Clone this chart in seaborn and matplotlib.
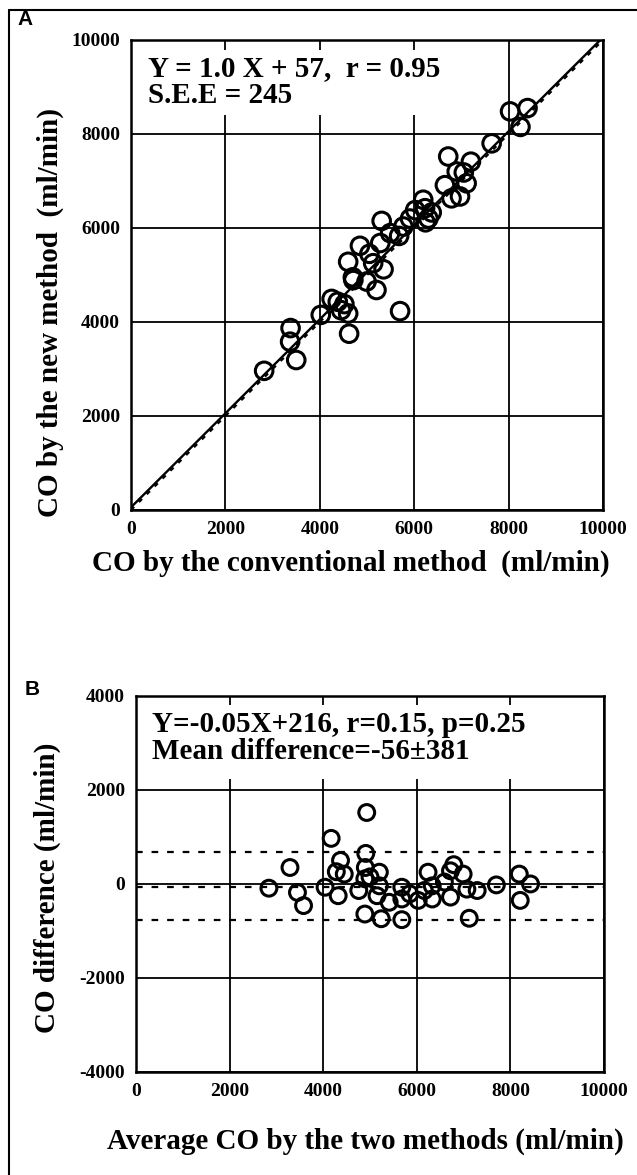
import numpy as np
import pandas as pd
import seaborn as sns
import matplotlib.pyplot as plt
from matplotlib.lines import Line2D
from matplotlib.patches import Rectangle

# Panel A: conventional vs new method (ml/min)
conv_co = [2820, 3380, 3370, 3500, 4020, 4250, 4380, 4520, 4450, 4600,
           4620, 5700, 4600, 4710, 4850, 4990, 5200, 5350, 5130, 5280,
           5490, 5310, 5770, 5680, 5910, 6020, 6190, 6230, 6300, 6370,
           6240, 6650, 6720, 6900, 6970, 6790, 7110, 7050, 7200, 7640,
           8030, 8400, 8250, 5050, 4700]
new_co = [2960, 3870, 3580, 3190, 4150, 4490, 4430, 4380, 4250, 4180,
          3750, 4230, 5280, 4890, 5620, 4860, 4680, 5120, 5250, 5680,
          5890, 6150, 6030, 5830, 6200, 6380, 6600, 6420, 6200, 6330,
          6120, 6910, 7520, 7200, 6670, 6630, 6950, 7180, 7410, 7800,
          8480, 8550, 8150, 5450, 4950]

# Panel B: Bland-Altman (average vs difference)
avg_co = [2840, 3290, 3450, 3580, 4040, 4170, 4280, 4320, 4370, 4450,
          4760, 4890, 4890, 4910, 4930, 4900, 5200, 5200, 5150, 5240,
          5410, 5680, 5680, 5680, 5850, 6030, 6240, 6330, 6330, 6160,
          6590, 6720, 6720, 6990, 7070, 7120, 7290, 7700, 8190, 8210,
          8430, 6790, 5000]
diff_co = [-90, 350, -180, -460, -70, 970, 260, -250, 500, 210,
           -140, 110, -640, 650, 1520, 350, 250, -40, -250, -740,
           -390, -70, -320, -760, -210, -350, 250, -40, -320, -140,
           40, 280, -280, 210, -110, -730, -140, -20, 210, -350,
           0, 410, 150]

fit_slope, fit_icpt = 1.0, 57
mean_diff = -56
upper_lim, lower_lim = 690, -760

df_a = pd.DataFrame({"conv": conv_co, "new": new_co})
df_b = pd.DataFrame({"avg": avg_co, "diff": diff_co})

sns.set_theme(style="white")
plt.rcParams["font.family"] = ["Liberation Serif", "DejaVu Serif"]
plt.rcParams["font.weight"] = "bold"
plt.rcParams["axes.linewidth"] = 1.6
plt.rcParams["axes.unicode_minus"] = False
for key in ("text.color", "axes.labelcolor", "xtick.color", "ytick.color"):
    plt.rcParams[key] = "black"

fig = plt.figure(figsize=(6.37, 11.75), dpi=100)
ax1 = fig.add_axes([0.2057, 0.566, 0.741, 0.400])
ax2 = fig.add_axes([0.2135, 0.0877, 0.7347, 0.320])

tick_kw = dict(direction="out", length=6, width=1.6, color="black",
               labelcolor="black", labelsize=14, pad=2)

# --- Panel A ---
xs = np.array([0, 10000])
ax1.plot(xs, xs, color="black", lw=1.6, ls=(0, (2, 3)), zorder=2)
ax1.plot(xs, fit_slope * xs + fit_icpt, color="black", lw=1.7, zorder=2)
sns.scatterplot(data=df_a, x="conv", y="new", ax=ax1, s=160,
                facecolors="none", edgecolor="black", linewidth=2.2,
                zorder=4, legend=False)
ax1.set_xlim(0, 10000)
ax1.set_ylim(0, 10000)
ax1.set_xticks(range(0, 10001, 2000))
ax1.set_yticks(range(0, 10001, 2000))
ax1.grid(True, color="black", lw=1.3)
ax1.tick_params(**tick_kw)
ax1.add_patch(Rectangle((0.02, 0.84), 0.73, 0.138, transform=ax1.transAxes,
                        facecolor="white", edgecolor="none", zorder=1))
ax1.text(0.035, 0.968, "Y = 1.0 X + 57,  r = 0.95\nS.E.E = 245",
         transform=ax1.transAxes, ha="left", va="top", fontsize=21,
         fontweight="bold", linespacing=1.0, zorder=3)
ax1.set_xlabel("CO by the conventional method  (ml/min)", fontsize=21,
               fontweight="bold")
ax1.set_ylabel("CO by the new method  (ml/min)", fontsize=21,
               fontweight="bold")
ax1.xaxis.set_label_coords(0.465, -0.085)
ax1.yaxis.set_label_coords(-0.142, 0.42)

# --- Panel B ---
ax2.axhline(mean_diff, color="black", lw=1.6, ls=(0, (3, 4)), zorder=2)
ax2.axhline(upper_lim, color="black", lw=1.6, ls=(0, (3, 4)), zorder=2)
ax2.axhline(lower_lim, color="black", lw=1.6, ls=(0, (3, 4)), zorder=2)
sns.scatterplot(data=df_b, x="avg", y="diff", ax=ax2, s=130,
                facecolors="none", edgecolor="black", linewidth=2.2,
                zorder=4, legend=False)
ax2.set_xlim(0, 10000)
ax2.set_ylim(-4000, 4000)
ax2.set_xticks(range(0, 10001, 2000))
ax2.set_yticks(range(-4000, 4001, 2000))
ax2.grid(True, color="black", lw=1.3)
ax2.tick_params(**tick_kw)
ax2.add_patch(Rectangle((0.02, 0.78), 0.92, 0.195, transform=ax2.transAxes,
                        facecolor="white", edgecolor="none", zorder=1))
ax2.text(0.035, 0.96, "Y=-0.05X+216, r=0.15, p=0.25\nMean difference=-56\u00b1381",
         transform=ax2.transAxes, ha="left", va="top", fontsize=21,
         fontweight="bold", linespacing=1.0, zorder=3)
ax2.set_xlabel("Average CO by the two methods (ml/min)", fontsize=21,
               fontweight="bold")
ax2.set_ylabel("CO difference (ml/min)", fontsize=21, fontweight="bold")
ax2.xaxis.set_label_coords(0.49, -0.148)
ax2.yaxis.set_label_coords(-0.16, 0.49)

for ax in (ax1, ax2):
    for sp in ax.spines.values():
        sp.set_color("black")
        sp.set_linewidth(1.8)

# panel letters and outer frame
fig.text(0.027, 0.983, "A", fontsize=15, fontweight="bold",
         family=["Liberation Sans", "DejaVu Sans"], ha="left", va="center")
fig.text(0.038, 0.413, "B", fontsize=15, fontweight="bold",
         family=["Liberation Sans", "DejaVu Sans"], ha="left", va="center")
fig.add_artist(Line2D([0.014, 0.014], [0.0, 0.9915], color="black", lw=1.5))
fig.add_artist(Line2D([0.014, 1.0], [0.9915, 0.9915], color="black", lw=1.5))

fig.savefig("out.png", dpi=100)
